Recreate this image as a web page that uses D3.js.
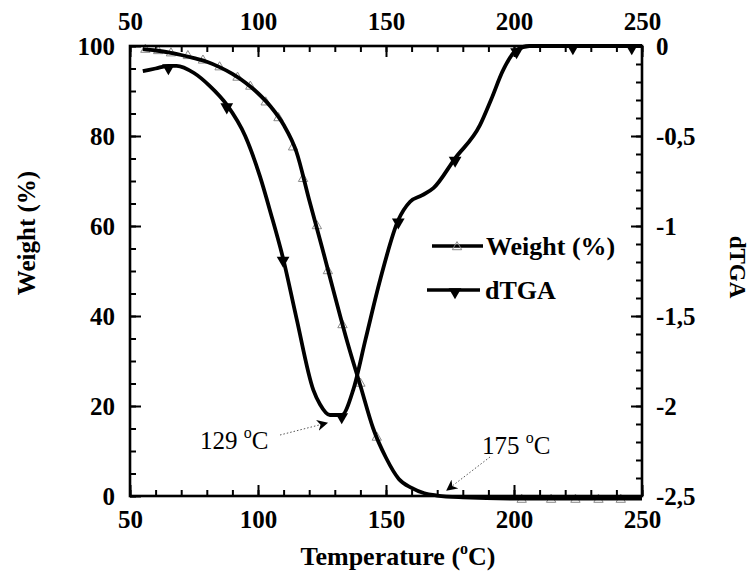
<!DOCTYPE html>
<html><head><meta charset="utf-8">
<script src="https://cdn.jsdelivr.net/npm/d3@7"></script>
<style>body{margin:0;background:#fff}svg{display:block}</style>
</head><body>
<svg id="c" width="752" height="581"></svg>
<script>
// ---- data ----
const tempTicks = [50, 100, 150, 200, 250];
const weightTicks = [0, 20, 40, 60, 80, 100];
const dtgaTicks = [0, -0.5, -1, -1.5, -2, -2.5];
const dtgaTickLabels = ["0", "-0,5", "-1", "-1,5", "-2", "-2,5"];

const weightT = [55, 60, 65, 70, 75, 80, 85, 90, 95, 100, 105, 110, 115, 120, 125, 130, 135, 140, 145, 150, 155, 160, 165, 170, 180, 203, 250];
const weightV = [99.3, 99.0, 98.6, 98.0, 97.3, 96.5, 95.3, 93.8, 91.9, 89.5, 86.5, 82.5, 76.5, 65.8, 55.3, 44.5, 34.0, 24.5, 15.0, 8.5, 3.8, 1.8, 0.6, 0.1, -0.3, -0.6, -0.6];
const weightMarkT = [56, 61, 66, 72.6, 78.5, 85, 92, 97, 103, 108, 113.7, 117.6, 123, 127.3, 133, 140, 146.4, 203, 214.5, 224, 233, 241.7];
const weightMarkV = [99.2, 98.9, 98.4, 97.8, 96.8, 95.3, 93, 91, 87.5, 84, 77.5, 70.5, 60, 50, 38, 25, 13, -0.8, -0.8, -0.8, -0.8, -0.8];

const dtgaT = [55, 60, 65, 68.2, 75, 81, 88, 95, 100.8, 105, 109.8, 115, 121.6, 124.2, 128.1, 132.7, 137.2, 142, 147.7, 154.8, 159.4, 164, 168.5, 177, 186.7, 191, 195.8, 201, 206, 250];
const dtgaV = [-0.14, -0.125, -0.11, -0.11, -0.15, -0.22, -0.33, -0.50, -0.726, -0.93, -1.18, -1.51, -1.91, -1.99, -2.05, -2.05, -1.91, -1.63, -1.30, -0.967, -0.865, -0.83, -0.79, -0.624, -0.44, -0.30, -0.133, -0.022, 0, 0];
const dtgaMarkT = [65, 87.8, 109.8, 132.7, 154.8, 177, 201, 223, 246];
const dtgaMarkV = [-0.11, -0.328, -1.18, -2.05, -0.967, -0.624, -0.022, 0, 0];

const annotations = [
  {label: "129", tx: 200, ty: 449, from: [280, 435], to: [327, 423]},
  {label: "175", tx: 482, ty: 454, from: [490, 457], to: [447, 490]}
];

// ---- layout ----
const svg = d3.select("#c");
const L = 130, R = 642, T = 46, B = 496;
const font = "'Liberation Serif', 'Times New Roman', serif";
const x = d3.scaleLinear().domain([50, 250]).range([L, R]);
const yW = d3.scaleLinear().domain([0, 100]).range([B, T]);
const yD = d3.scaleLinear().domain([-2.5, 0]).range([B, T]);

const defs = svg.append("defs");
defs.append("marker").attr("id", "ah").attr("viewBox", "0 0 10 10").attr("refX", 9).attr("refY", 5)
  .attr("markerWidth", 11).attr("markerHeight", 11).attr("markerUnits", "userSpaceOnUse").attr("orient", "auto")
  .append("path").attr("d", "M0,0 L10,5 L0,10 L3,5 Z").attr("fill", "#000");

function styleAxis(g, size) {
  g.select(".domain").remove();
  g.selectAll("line").attr("stroke", "#000").attr("stroke-width", 2);
  g.selectAll("text").attr("font-family", font).attr("font-weight", "bold").attr("font-size", size).attr("fill", "#000");
}

// minor ticks
const minorX = d3.range(50, 251, 10);
const minorW = d3.range(0, 101, 5);
const minorD = d3.range(0, 26).map(i => -i / 10);

svg.append("g").attr("transform", `translate(0,${B})`)
  .call(d3.axisBottom(x).tickValues(minorX).tickSizeInner(-6).tickSizeOuter(0).tickFormat(""))
  .call(g => styleAxis(g, 25));
svg.append("g").attr("transform", `translate(0,${B})`)
  .call(d3.axisBottom(x).tickValues(tempTicks).tickSizeInner(-11).tickSizeOuter(0).tickPadding(14).tickFormat(d3.format("d")))
  .call(g => styleAxis(g, 25));
svg.append("g").attr("transform", `translate(0,${T})`)
  .call(d3.axisTop(x).tickValues(minorX).tickSizeInner(-6).tickSizeOuter(0).tickFormat(""))
  .call(g => styleAxis(g, 25));
svg.append("g").attr("transform", `translate(0,${T})`)
  .call(d3.axisTop(x).tickValues(tempTicks).tickSizeInner(-11).tickSizeOuter(0).tickPadding(16).tickFormat(d3.format("d")))
  .call(g => styleAxis(g, 25));
svg.append("g").attr("transform", `translate(${L},0)`)
  .call(d3.axisLeft(yW).tickValues(minorW).tickSizeInner(-6).tickSizeOuter(0).tickFormat(""))
  .call(g => styleAxis(g, 25));
svg.append("g").attr("transform", `translate(${L},0)`)
  .call(d3.axisLeft(yW).tickValues(weightTicks).tickSizeInner(-11).tickSizeOuter(0).tickPadding(15).tickFormat(d3.format("d")))
  .call(g => styleAxis(g, 25));
svg.append("g").attr("transform", `translate(${R},0)`)
  .call(d3.axisRight(yD).tickValues(minorD).tickSizeInner(-6).tickSizeOuter(0).tickFormat(""))
  .call(g => styleAxis(g, 25));
svg.append("g").attr("transform", `translate(${R},0)`)
  .call(d3.axisRight(yD).tickValues(dtgaTicks).tickSizeInner(-11).tickSizeOuter(0).tickPadding(14)
    .tickFormat((d, i) => dtgaTickLabels[i]))
  .call(g => styleAxis(g, 25));

// curves
const lineW = d3.line().x(d => x(d[0])).y(d => yW(d[1])).curve(d3.curveMonotoneX);
const lineD = d3.line().x(d => x(d[0])).y(d => yD(d[1])).curve(d3.curveMonotoneX);

const tri = d3.symbol().type(d3.symbolTriangle).size(38);
const triD = d3.symbol().type(d3.symbolTriangle).size(70);

// weight markers (gray, open)
svg.append("g").selectAll("path").data(weightMarkT.map((t, i) => [t, weightMarkV[i]])).join("path")
  .attr("d", tri).attr("transform", d => `translate(${x(d[0])},${yW(d[1])})`)
  .attr("fill", "none").attr("stroke", "#8a8a8a").attr("stroke-width", 1);

svg.append("path").datum(weightT.map((t, i) => [t, weightV[i]])).attr("d", lineW)
  .attr("fill", "none").attr("stroke", "#000").attr("stroke-width", 3.8).attr("stroke-linejoin", "round");

svg.append("path").datum(dtgaT.map((t, i) => [t, dtgaV[i]])).attr("d", lineD)
  .attr("fill", "none").attr("stroke", "#000").attr("stroke-width", 3.8).attr("stroke-linejoin", "round");

svg.append("g").selectAll("path").data(dtgaMarkT.map((t, i) => [t, dtgaMarkV[i]])).join("path")
  .attr("d", triD).attr("transform", d => `translate(${x(d[0])},${yD(d[1]) + 2}) rotate(180)`)
  .attr("fill", "#000");

// frame
svg.append("rect").attr("x", L).attr("y", T).attr("width", R - L).attr("height", B - T)
  .attr("fill", "none").attr("stroke", "#000").attr("stroke-width", 2.6);

// axis titles
const xt = svg.append("text").attr("x", (L + R) / 2 + 12).attr("y", 565).attr("text-anchor", "middle")
  .attr("font-family", font).attr("font-weight", "bold").attr("font-size", 26);
xt.append("tspan").text("Temperature (");
xt.append("tspan").text("o").attr("font-size", 16).attr("dy", -11);
xt.append("tspan").text("C)").attr("dy", 11);

svg.append("text").attr("transform", "translate(35,233) rotate(-90)").attr("text-anchor", "middle")
  .attr("font-family", font).attr("font-weight", "bold").attr("font-size", 25).text("Weight (%)");
svg.append("text").attr("transform", "translate(730,267) rotate(90)").attr("text-anchor", "middle")
  .attr("font-family", font).attr("font-weight", "bold").attr("font-size", 23).text("dTGA");

// legend
const lg = svg.append("g");
lg.append("line").attr("x1", 432).attr("x2", 483).attr("y1", 246).attr("y2", 246).attr("stroke", "#000").attr("stroke-width", 3.5);
lg.append("path").attr("d", tri).attr("transform", "translate(457,247)").attr("fill", "none").attr("stroke", "#8a8a8a").attr("stroke-width", 1);
lg.append("text").attr("x", 486).attr("y", 255).attr("font-family", font).attr("font-weight", "bold").attr("font-size", 26).text("Weight (%)");
lg.append("line").attr("x1", 427).attr("x2", 480).attr("y1", 290).attr("y2", 290).attr("stroke", "#000").attr("stroke-width", 3.5);
lg.append("path").attr("d", triD).attr("transform", "translate(455,292) rotate(180)").attr("fill", "#000");
lg.append("text").attr("x", 485).attr("y", 299).attr("font-family", font).attr("font-weight", "bold").attr("font-size", 26).text("dTGA");

// annotations
annotations.forEach(a => {
  const t = svg.append("text").attr("x", a.tx).attr("y", a.ty).attr("font-family", font).attr("font-size", 25);
  t.append("tspan").text(a.label + " ");
  t.append("tspan").text("o").attr("font-size", 16).attr("dy", -11);
  t.append("tspan").text("C").attr("dy", 11);
  svg.append("line").attr("x1", a.from[0]).attr("y1", a.from[1]).attr("x2", a.to[0]).attr("y2", a.to[1])
    .attr("stroke", "#555").attr("stroke-width", 1).attr("stroke-dasharray", "1.5,2").attr("marker-end", "url(#ah)");
});
</script>
</body></html>
